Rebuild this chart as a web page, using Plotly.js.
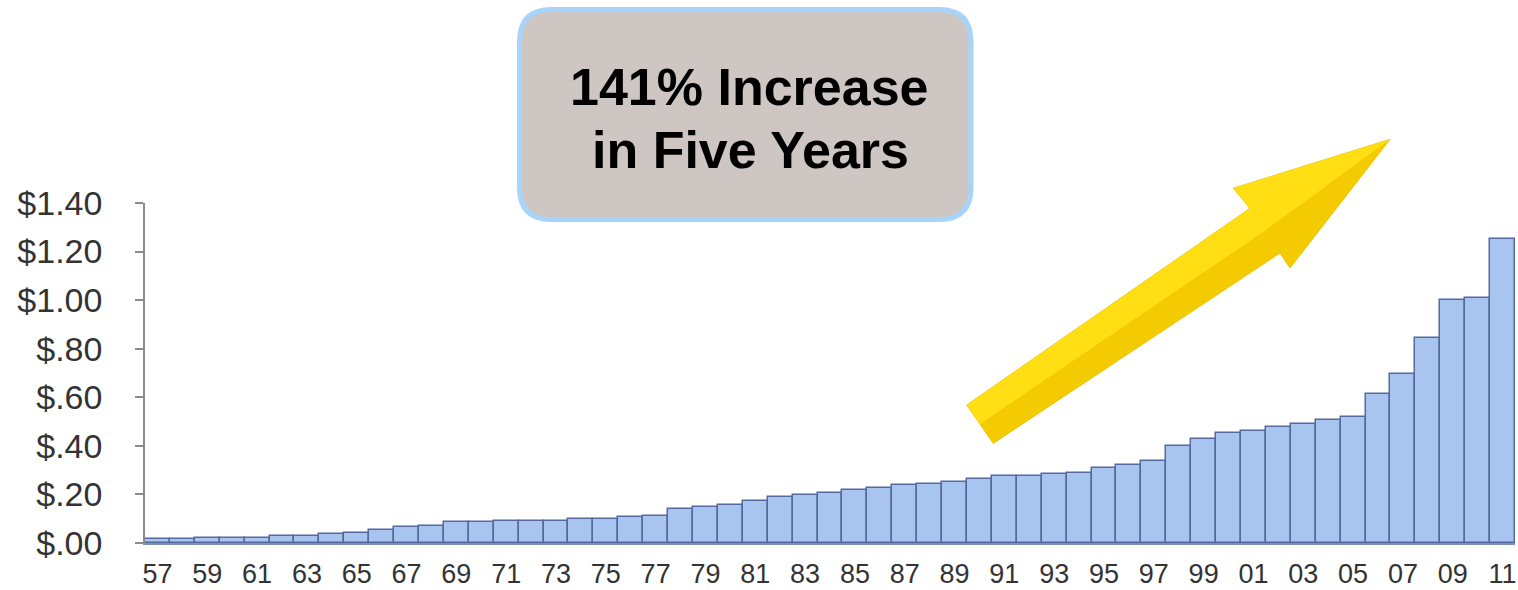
<!DOCTYPE html>
<html>
<head>
<meta charset="utf-8">
<script src="https://cdn.plot.ly/plotly-3.0.1.min.js"></script>
<style>
  html, body { margin: 0; padding: 0; background: #ffffff; }
  #chart { width: 1518px; height: 590px; }
</style>
</head>
<body>
<div id="chart"></div>
<script>
// ---- data ----
const years = ['57','58','59','60','61','62','63','64','65','66','67','68','69','70','71','72','73','74','75','76','77','78','79','80','81','82','83','84','85','86','87','88','89','90','91','92','93','94','95','96','97','98','99','00','01','02','03','04','05','06','07','08','09','10','11'];
const values = [0.015,0.015,0.022,0.022,0.022,0.029,0.029,0.039,0.043,0.055,0.064,0.071,0.088,0.088,0.092,0.092,0.092,0.099,0.099,0.106,0.113,0.138,0.148,0.156,0.173,0.189,0.196,0.205,0.217,0.228,0.238,0.242,0.253,0.262,0.274,0.276,0.283,0.290,0.307,0.322,0.337,0.398,0.428,0.455,0.463,0.479,0.490,0.507,0.518,0.613,0.696,0.845,1.000,1.010,1.250];
const yTickVals = [0,0.2,0.4,0.6,0.8,1.0,1.2,1.4];
const yTickText = ['$.00','$.20','$.40','$.60','$.80','$1.00','$1.20','$1.40'];
const xTickVals = years.filter((y, i) => i % 2 === 0);
const calloutLines = ['141% Increase', 'in Five Years'];

// ---- layout geometry (pixels) ----
const W = 1518, H = 590;
const M = { l: 145, r: 3, t: 203, b: 47 };
const PW = W - M.l - M.r, PH = H - M.t - M.b;
const px = x => (x - M.l) / PW;
const py = y => (H - M.b - y) / PH;
const pt = (x, y) => px(x).toFixed(5) + ',' + py(y).toFixed(5);

// callout box (rounded)
const bx0 = 519.5, bx1 = 971, by0 = 9.5, by1 = 219.5, rr = 32;
const boxPath = 'M' + pt(bx0 + rr, by0) + ' L' + pt(bx1 - rr, by0) +
  ' Q' + pt(bx1, by0) + ' ' + pt(bx1, by0 + rr) +
  ' L' + pt(bx1, by1 - rr) + ' Q' + pt(bx1, by1) + ' ' + pt(bx1 - rr, by1) +
  ' L' + pt(bx0 + rr, by1) + ' Q' + pt(bx0, by1) + ' ' + pt(bx0, by1 - rr) +
  ' L' + pt(bx0, by0 + rr) + ' Q' + pt(bx0, by0) + ' ' + pt(bx0 + rr, by0) + ' Z';

// arrow
const A = [966.7, 405], B = [1250, 208.3], C = [1233.3, 188.3], D = [1390, 139.3],
      E = [1290, 268], F = [1280, 253], G = [993.3, 443.3];
const M1 = [980, 424], M2 = [1265, 230.7];
const poly = pts => 'M' + pts.map(p => pt(p[0], p[1])).join(' L') + ' Z';
const arrowFull = poly([A, B, C, D, E, F, G]);
const arrowTop = poly([A, B, C, D, M2, M1]);
const arrowCap = poly([A, M1, G]);

const trace = {
  type: 'bar',
  x: years,
  y: values,
  marker: { color: '#a8c5ef', line: { color: '#55699f', width: 1.5 } },
  hoverinfo: 'x+y'
};

const layout = {
  width: W, height: H,
  margin: M,
  paper_bgcolor: '#ffffff',
  plot_bgcolor: '#ffffff',
  showlegend: false,
  bargap: 0,
  xaxis: {
    type: 'category',
    range: [-0.5, years.length - 0.5],
    tickmode: 'array',
    tickvals: xTickVals,
    ticktext: xTickVals,
    ticks: '',
    showline: true, linecolor: '#7d8fb3', linewidth: 1.5,
    showgrid: false, zeroline: false,
    tickfont: { family: 'Liberation Sans, Arial, sans-serif', size: 27, color: '#333333' },
    ticklabelstandoff: 6
  },
  yaxis: {
    range: [0, 1.4],
    tickmode: 'array',
    tickvals: yTickVals,
    ticktext: yTickText,
    ticks: 'outside', ticklen: 8, tickcolor: '#8a8a8a', tickwidth: 1.5,
    showline: true, linecolor: '#8a8a8a', linewidth: 1.5,
    showgrid: false, zeroline: false,
    tickfont: { family: 'Liberation Sans, Arial, sans-serif', size: 34, color: '#333333' },
    ticklabelstandoff: 26
  },
  shapes: [
    { type: 'path', xref: 'paper', yref: 'paper', path: boxPath,
      fillcolor: '#cdc6c3', line: { color: '#a8d4fb', width: 5 }, layer: 'above' },
    { type: 'path', xref: 'paper', yref: 'paper', path: arrowFull,
      fillcolor: '#f4ca00', line: { color: '#ecc400', width: 1 }, layer: 'above' },
    { type: 'path', xref: 'paper', yref: 'paper', path: arrowTop,
      fillcolor: '#ffdf14', line: { width: 0 }, layer: 'above' },
    { type: 'path', xref: 'paper', yref: 'paper', path: arrowCap,
      fillcolor: '#f7d10a', line: { width: 0 }, layer: 'above' }
  ],
  annotations: [
    { xref: 'paper', yref: 'paper', x: px(749), y: py(87), xanchor: 'center', yanchor: 'middle',
      text: '<b>' + calloutLines[0] + '</b>', showarrow: false,
      font: { family: 'Liberation Sans, Arial, sans-serif', size: 52, color: '#000000' } },
    { xref: 'paper', yref: 'paper', x: px(750), y: py(150), xanchor: 'center', yanchor: 'middle',
      text: '<b>' + calloutLines[1] + '</b>', showarrow: false,
      font: { family: 'Liberation Sans, Arial, sans-serif', size: 52, color: '#000000' } }
  ]
};

Plotly.newPlot('chart', [trace], layout, { displayModeBar: false, responsive: false });
</script>
</body>
</html>
